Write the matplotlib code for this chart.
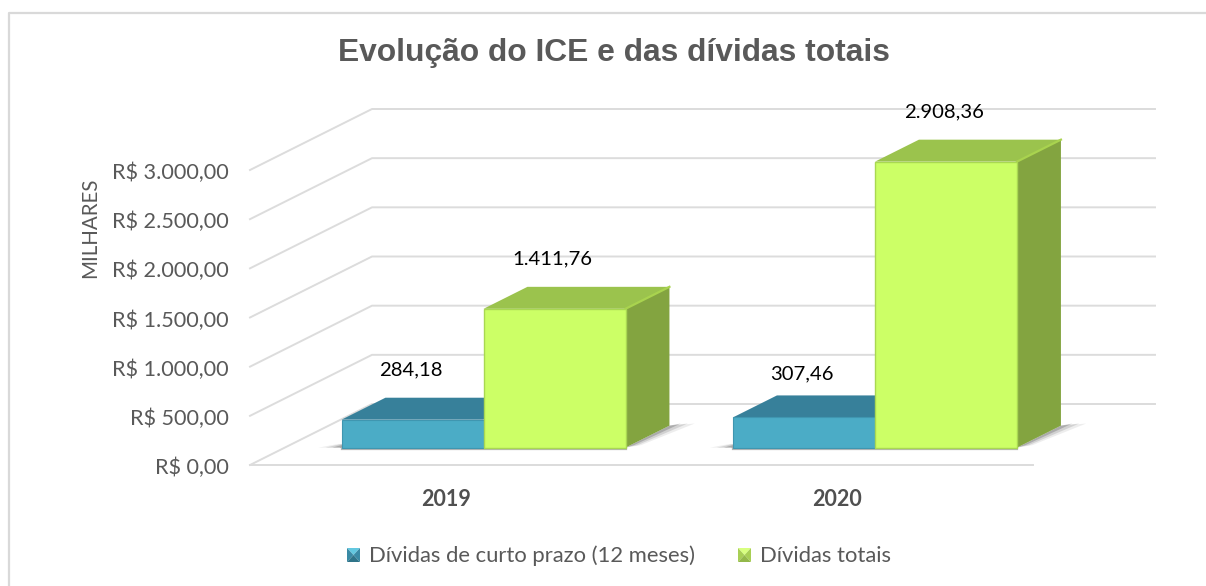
"""Evolução do ICE e das dívidas totais: pseudo-3D clustered columns."""

import matplotlib
matplotlib.use("Agg")
import matplotlib.pyplot as plt
from matplotlib.patches import Polygon, Rectangle

W, H = 1206, 586

years = ["2019", "2020"]
series_names = ["Dívidas de curto prazo (12 meses)", "Dívidas totais"]
curto_prazo = [284.18, 307.46]
totais = [1411.76, 2908.36]
value_labels_curto = ["284,18", "307,46"]
value_labels_totais = ["1.411,76", "2.908,36"]
tick_values = [0, 500, 1000, 1500, 2000, 2500, 3000]
tick_labels = ["R$ 0,00", "R$ 500,00", "R$ 1.000,00", "R$ 1.500,00",
               "R$ 2.000,00", "R$ 2.500,00", "R$ 3.000,00"]

# ── depth projection ──────────────────────────────────────────────
PX_X = 783 / 2      # pixels per category
PX_Y = 295 / 3000   # pixels per unit of value
DEPTH_X = 122 / PX_X
DEPTH_Y = 61 / PX_Y


def proj(x, y, d=0.0):
    """Category/value/depth to axes data coordinates."""
    return (x + d * DEPTH_X, y + d * DEPTH_Y)


def face(ax, pts, color, z=3, **kw):
    ax.add_patch(Polygon([proj(*p) for p in pts], closed=True, fc=color,
                         ec="none", zorder=z, clip_on=False, **kw))


fig = plt.figure(figsize=(W / 100, H / 100), dpi=100, facecolor="white")

# frame of the chart area
bg = fig.add_axes([0, 0, 1, 1])
bg.set_xlim(0, W)
bg.set_ylim(H, 0)
bg.axis("off")
bg.plot([8.5, 8.5, W], [H, 12.5, 12.5], color="#d9d9d9", lw=1.6)

# axes = front plane of the chart: x 250..1033 px, y 465..170 px
ax = fig.add_axes([250 / W, 1 - 465 / H, 783 / W, 295 / H])
ax.set_xlim(0, 2)
ax.set_ylim(0, 3000)
ax.axis("off")
ax.patch.set_alpha(0)

grid = "#dcdcdc"
for v, lab in zip(tick_values, tick_labels):
    x0, y0 = proj(0, v, 0)
    x1, y1 = proj(0, v, 1)
    x2, y2 = proj(2, v, 1)
    ax.plot([x0, x1, x2], [y0, y1, y2], color=grid, lw=1.4, zorder=1,
            clip_on=False)
    ax.text(-21 / PX_X, v - 3 / PX_Y, lab, ha="right", va="center", fontsize=15.6,
            color="#595959", family="Lato", clip_on=False)
ax.plot([0, 2], [0, 0], color=grid, lw=1.4, zorder=1, clip_on=False)

bar_w = 142 / PX_X
d0, d1 = 0.285, 0.645
shift = 3 / PX_X
label_gap = 50 / PX_Y

for i, year in enumerate(years):
    c = i + 0.5 + shift
    left, mid, right = c - bar_w, c, c + bar_w

    # soft floor shadow, right of the cluster and to its left
    for k, alpha in enumerate([0.10, 0.18, 0.30, 0.45]):
        g = (3 - k) * 7 / PX_X
        face(ax, [(right, 0, d0), (right, 0, d1), (right + g, 0, d1 + 0.035),
                  (right + g * 0.5, 0, d0 + 0.04)], "#555555", z=2, alpha=alpha)
        face(ax, [(left - g - 2 / PX_X, 0, d0), (left, 0, d0),
                  (left, 0, d0 + 0.06), (left - g * 0.5, 0, d0 + 0.06)],
             "#555555", z=2, alpha=alpha)
    bx, by = proj(left, 0, d0)
    ax.plot([bx, bx + 2 * bar_w], [by - 1.2 / PX_Y] * 2, color="#b5b5b5", lw=1.6,
            zorder=2, clip_on=False)

    # short-term column
    h = curto_prazo[i]
    face(ax, [(left, h, d0), (mid, h, d0), (mid, h, d1), (left, h, d1)], "#37809a", z=3)
    ax.add_patch(Rectangle(proj(left, 0, d0), bar_w, h, fc="#4bacc6", ec="#3f96b0",
                           lw=0.8, zorder=4, clip_on=False))

    # total column
    h = totais[i]
    face(ax, [(mid, h, d0), (right, h, d0), (right, h, d1), (mid, h, d1)], "#9bc34d", z=5)
    face(ax, [(right, 0, d0), (right, h, d0), (right, h, d1), (right, 0, d1)], "#83a440", z=5)
    ax.plot(*zip(proj(right, h, d0), proj(right, h, d1)), color="#a9d34f", lw=1.6,
            zorder=5, clip_on=False)
    ax.add_patch(Rectangle(proj(mid, 0, d0), bar_w, h, fc="#ccff66", ec="#a9d852",
                           lw=1.0, zorder=6, clip_on=False))

    # labels sit above the front centre of each column
    lx, ly = proj(left + bar_w / 2, curto_prazo[i], d0)
    drop = 6 / PX_Y if i == 1 else 0   # the 2020 label was nudged down in the original
    ax.text(lx - 2 / PX_X, ly + label_gap - drop, value_labels_curto[i], ha="center",
            va="center", fontsize=14.6, color="black", family="Lato", zorder=8)
    lx, ly = proj(mid + bar_w / 2, totais[i], d0)
    ax.text(lx - 2 / PX_X, ly + label_gap, value_labels_totais[i], ha="center", va="center",
            fontsize=14.6, color="black", family="Lato", zorder=8)

    ax.text(i + 0.5, -355, year, ha="center", va="center", fontsize=15.5,
            fontweight="bold", color="#505050", family="Lato", clip_on=False)

# titles
bg.text(614, 53, "Evolução do ICE e das dívidas totais", ha="center", va="center",
        fontsize=22.9, fontweight="bold", color="#595959", family="Liberation Sans")
bg.text(90, 228, "MILHARES", rotation=90, ha="center", va="center", fontsize=14.8,
        color="#595959", family="Lato")


def legend_key(x, y, w, h, top, left_c, bottom, right_c):
    """Small bevelled square as drawn by the spreadsheet legend."""
    m = (x + w / 2, y + h / 2)
    bg.add_patch(Polygon([(x, y), (x + w, y), m], fc=top, ec="none"))
    bg.add_patch(Polygon([(x, y), (x, y + h), m], fc=left_c, ec="none"))
    bg.add_patch(Polygon([(x, y + h), (x + w, y + h), m], fc=bottom, ec="none"))
    bg.add_patch(Polygon([(x + w, y), (x + w, y + h), m], fc=right_c, ec="none"))


legend_key(347, 548, 13, 14, "#63c8e0", "#3a8aa5", "#2f7489", "#3a8aa5")
bg.text(369, 556, series_names[0], ha="left", va="center", fontsize=15.8,
        color="#595959", family="Lato")
legend_key(738, 548, 13, 14, "#d8ff80", "#a8cf55", "#93b84a", "#a8cf55")
bg.text(760, 556, series_names[1], ha="left", va="center", fontsize=15.8,
        color="#595959", family="Lato")

fig.savefig("out.png", dpi=100)
